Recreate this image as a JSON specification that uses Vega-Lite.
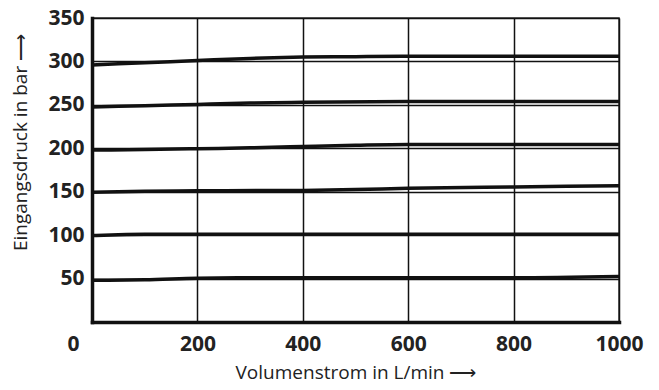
{
  "$schema": "https://vega.github.io/schema/vega-lite/v6.json",
  "autosize": {"type": "none"},
  "width": 527,
  "height": 304,
  "padding": {"left": 92, "top": 18, "right": 40, "bottom": 68},
  "background": "white",
  "config": {
    "view": {"stroke": "#333", "strokeWidth": 1.5},
    "font": "Open Sans"
  },
  "data": {
    "values": [
      {"curve": "300", "q": 0, "p": 296}, {"curve": "300", "q": 100, "p": 298.5}, {"curve": "300", "q": 200, "p": 301}, {"curve": "300", "q": 300, "p": 303.5}, {"curve": "300", "q": 400, "p": 305}, {"curve": "300", "q": 500, "p": 305.5}, {"curve": "300", "q": 600, "p": 306}, {"curve": "300", "q": 800, "p": 306}, {"curve": "300", "q": 1000, "p": 306},
      {"curve": "250", "q": 0, "p": 247.5}, {"curve": "250", "q": 100, "p": 249}, {"curve": "250", "q": 200, "p": 250.5}, {"curve": "250", "q": 300, "p": 252}, {"curve": "250", "q": 400, "p": 253}, {"curve": "250", "q": 600, "p": 254}, {"curve": "250", "q": 800, "p": 254}, {"curve": "250", "q": 1000, "p": 254},
      {"curve": "200", "q": 0, "p": 198}, {"curve": "200", "q": 100, "p": 198.5}, {"curve": "200", "q": 200, "p": 199.5}, {"curve": "200", "q": 300, "p": 200.5}, {"curve": "200", "q": 400, "p": 202}, {"curve": "200", "q": 500, "p": 203.5}, {"curve": "200", "q": 600, "p": 204.5}, {"curve": "200", "q": 800, "p": 204.5}, {"curve": "200", "q": 1000, "p": 204.5},
      {"curve": "150", "q": 0, "p": 149.5}, {"curve": "150", "q": 100, "p": 150.5}, {"curve": "150", "q": 200, "p": 151}, {"curve": "150", "q": 400, "p": 151.5}, {"curve": "150", "q": 500, "p": 152.5}, {"curve": "150", "q": 600, "p": 154}, {"curve": "150", "q": 800, "p": 155.5}, {"curve": "150", "q": 1000, "p": 157},
      {"curve": "100", "q": 0, "p": 99.5}, {"curve": "100", "q": 50, "p": 100.5}, {"curve": "100", "q": 100, "p": 101}, {"curve": "100", "q": 200, "p": 101}, {"curve": "100", "q": 400, "p": 101}, {"curve": "100", "q": 600, "p": 101}, {"curve": "100", "q": 800, "p": 101}, {"curve": "100", "q": 1000, "p": 101},
      {"curve": "50", "q": 0, "p": 48}, {"curve": "50", "q": 100, "p": 48.5}, {"curve": "50", "q": 200, "p": 50.5}, {"curve": "50", "q": 300, "p": 51}, {"curve": "50", "q": 400, "p": 51}, {"curve": "50", "q": 600, "p": 51}, {"curve": "50", "q": 800, "p": 51}, {"curve": "50", "q": 1000, "p": 52.5}
    ]
  },
  "mark": {"type": "line", "color": "#111", "strokeWidth": 3.5, "interpolate": "monotone"},
  "encoding": {
    "x": {
      "field": "q", "type": "quantitative",
      "scale": {"domain": [0, 1000], "nice": false},
      "axis": {
        "values": [0, 200, 400, 600, 800, 1000],
        "format": "d",
        "title": "Volumenstrom in L/min ⟶",
        "titleFont": "Open Sans", "titleFontSize": 19, "titleFontWeight": "normal", "titleColor": "#222", "titlePadding": 9,
        "labelFont": "Open Sans", "labelFontSize": 21, "labelFontWeight": "bold", "labelColor": "#222",
        "labelPadding": 11,
        "labelOffset": {"condition": {"test": "datum.value === 0", "value": -19}, "value": 0},
        "labelFlush": false, "labelOverlap": false,
        "ticks": false,
        "domainColor": "#111", "domainWidth": 3.5, "domainCap": "square",
        "grid": true, "gridColor": "#111", "gridWidth": 1.5, "gridOpacity": 1
      }
    },
    "y": {
      "field": "p", "type": "quantitative",
      "scale": {"domain": [0, 350], "nice": false},
      "axis": {
        "values": [50, 100, 150, 200, 250, 300, 350],
        "title": "Eingangsdruck in bar ⟶",
        "titleFont": "Open Sans", "titleFontSize": 19, "titleFontWeight": "normal", "titleColor": "#222",
        "titleX": -62, "titleY": 124,
        "labelFont": "Open Sans", "labelFontSize": 21, "labelFontWeight": "bold", "labelColor": "#222",
        "labelPadding": 8, "labelFlush": false, "labelOverlap": false,
        "ticks": false,
        "domainColor": "#111", "domainWidth": 3.5, "domainCap": "square",
        "grid": true, "gridColor": "#111", "gridWidth": 1.5, "gridOpacity": 1
      }
    },
    "detail": {"field": "curve", "type": "nominal"}
  }
}
